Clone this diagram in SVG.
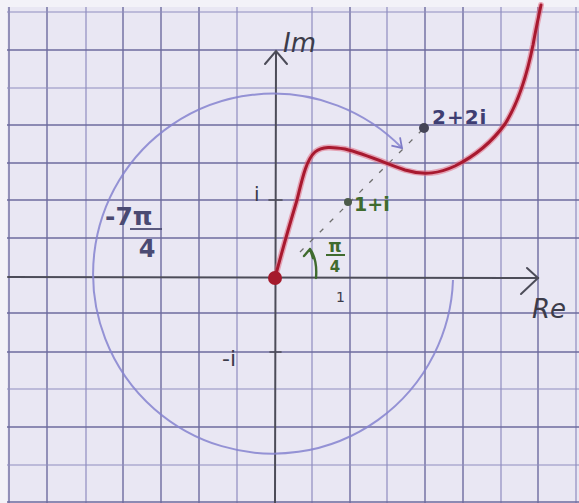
<svg xmlns="http://www.w3.org/2000/svg" width="579" height="503" viewBox="0 0 579 503">
  <defs>
    <style>
      .grid line { stroke: #6d6b9e; stroke-width: 1.4; }
      .grid line.lt { stroke: #8f8dc0; stroke-width: 1.2; }
      .axis { stroke: #4c4c58; stroke-width: 2; fill: none; stroke-linecap: round; }
      .hand { font-family: "DejaVu Sans", "Liberation Sans", sans-serif; }
      .dark { fill: #3c3c4a; }
      .green { fill: #3f6b2e; font-weight: bold; }
      .blue { fill: #3e3e72; font-weight: bold; }
    </style>
    <marker id="arcHead" markerWidth="14" markerHeight="14" refX="10" refY="7" orient="auto" markerUnits="userSpaceOnUse">
      <path d="M1,1 L10,7 L1,13" fill="none" stroke="#7f7cc8" stroke-width="1.8"/>
    </marker>
  </defs>

  <rect x="0" y="0" width="579" height="503" fill="#e9e7f3"/>
  <rect x="0" y="0" width="579" height="7" fill="#f3f2f8"/>
  <rect x="0" y="0" width="7" height="503" fill="#f3f2f8"/>

  <g id="grid" class="grid">
    <line x1="9" y1="7" x2="9" y2="503"/>
    <line x1="47" y1="7" x2="47" y2="503"/>
    <line class="lt" x1="86" y1="7" x2="86" y2="503"/>
    <line x1="123" y1="7" x2="123" y2="503"/>
    <line x1="161" y1="7" x2="161" y2="503"/>
    <line x1="199" y1="7" x2="199" y2="503"/>
    <line class="lt" x1="237" y1="7" x2="237" y2="503"/>
    <line class="lt" x1="312" y1="7" x2="312" y2="503"/>
    <line x1="350" y1="7" x2="350" y2="503"/>
    <line class="lt" x1="387" y1="7" x2="387" y2="503"/>
    <line x1="425" y1="7" x2="425" y2="503"/>
    <line x1="463" y1="7" x2="463" y2="503"/>
    <line class="lt" x1="501" y1="7" x2="501" y2="503"/>
    <line x1="538" y1="7" x2="538" y2="503"/>
    <line class="lt" x1="576" y1="7" x2="576" y2="503"/>

    <line class="lt" x1="7" y1="12" x2="579" y2="12"/>
    <line x1="7" y1="50" x2="579" y2="50"/>
    <line class="lt" x1="7" y1="88" x2="579" y2="88"/>
    <line x1="7" y1="125" x2="579" y2="125"/>
    <line x1="7" y1="163" x2="579" y2="163"/>
    <line x1="7" y1="200" x2="579" y2="200"/>
    <line x1="7" y1="238" x2="579" y2="238"/>
    <line x1="7" y1="313" x2="579" y2="313"/>
    <line x1="7" y1="352" x2="579" y2="352"/>
    <line class="lt" x1="7" y1="389" x2="579" y2="389"/>
    <line x1="7" y1="427" x2="579" y2="427"/>
    <line class="lt" x1="7" y1="465" x2="579" y2="465"/>
    <line x1="7" y1="502" x2="579" y2="502"/>
  </g>

  <g id="axes">
    <line class="axis" x1="8" y1="277" x2="538" y2="278"/>
    <path class="axis" d="M527,268 L538,278 L521,294"/>
    <line class="axis" x1="276" y1="52" x2="275" y2="503"/>
    <path class="axis" d="M265,64 L276,51 L287,64"/>
    <line class="axis" x1="269" y1="200" x2="282" y2="200" style="stroke-width:1.6"/>
    <line class="axis" x1="270" y1="352" x2="281" y2="352" style="stroke-width:1.6"/>
  </g>

  <g id="rotation-circle">
    <path d="M453,280 A180,180 0 1 1 402,148" fill="none" stroke="#8583cf" stroke-width="2" stroke-opacity="0.85" marker-end="url(#arcHead)"/>
  </g>

  <g id="connectors">
    <line x1="300" y1="252" x2="422" y2="130" stroke="#6e6e6e" stroke-width="1.3" stroke-dasharray="5 9"/>
    <path d="M316,278 C317,266 315,256 310,249 M310,249 L304,256 M310,249 L313,258" fill="none" stroke="#3f6b2e" stroke-width="2.4" stroke-linecap="round"/>
  </g>

  <g id="curve">
    <path d="M275,278 C281,255 291,220 297,200 C302,180 306,160 315,152 C322,146 333,147 345,149 C365,154 385,163 405,170 C425,176 440,173 455,166 C475,156 492,142 505,124 C520,100 528,70 533,45 C536,28 539,15 541,5" fill="none" stroke="#e06a80" stroke-width="6" stroke-opacity="0.55" stroke-linecap="round"/>
    <path d="M275,278 C281,255 291,220 297,200 C302,180 306,160 315,152 C322,146 333,147 345,149 C365,154 385,163 405,170 C425,176 440,173 455,166 C475,156 492,142 505,124 C520,100 528,70 533,45 C536,28 539,15 541,5" fill="none" stroke="#a8192f" stroke-width="3" stroke-linecap="round"/>
  </g>

  <g id="origin">
    <circle cx="275" cy="278" r="7" fill="#a51a2c"/>
  </g>

  <g id="point-1i">
    <circle cx="348" cy="202" r="4" fill="#4c5a4a"/>
    <text class="hand green" x="354" y="211" font-size="19">1+i</text>
  </g>

  <g id="point-2i">
    <circle cx="424" cy="128" r="5" fill="#454556"/>
    <text class="hand blue" x="432" y="124" font-size="20" letter-spacing="1">2+2i</text>
  </g>

  <g id="labels">
    <text class="hand dark" x="283" y="52" font-size="26" font-style="italic">Im</text>
    <text class="hand dark" x="532" y="318" font-size="26" font-style="italic">Re</text>
    <text class="hand dark" x="254" y="201" font-size="20">i</text>
    <text class="hand dark" x="222" y="366" font-size="22">-i</text>
    <text class="hand dark" x="336" y="302" font-size="14">1</text>
    <text class="hand" x="335" y="252" font-size="17" font-weight="bold" fill="#3f6b2e" text-anchor="middle">π</text>
    <line x1="326" y1="255" x2="345" y2="255" stroke="#3f6b2e" stroke-width="2"/>
    <text class="hand" x="335" y="272" font-size="15" font-weight="bold" fill="#3f6b2e" text-anchor="middle">4</text>
    <text class="hand" x="105" y="225" font-size="25" font-weight="600" fill="#4a4a72">-7π</text>
    <line x1="130" y1="229" x2="162" y2="229" stroke="#4a4a72" stroke-width="1.8"/>
    <text class="hand" x="147" y="257" font-size="24" font-weight="600" fill="#4a4a72" text-anchor="middle">4</text>
  </g>
</svg>
